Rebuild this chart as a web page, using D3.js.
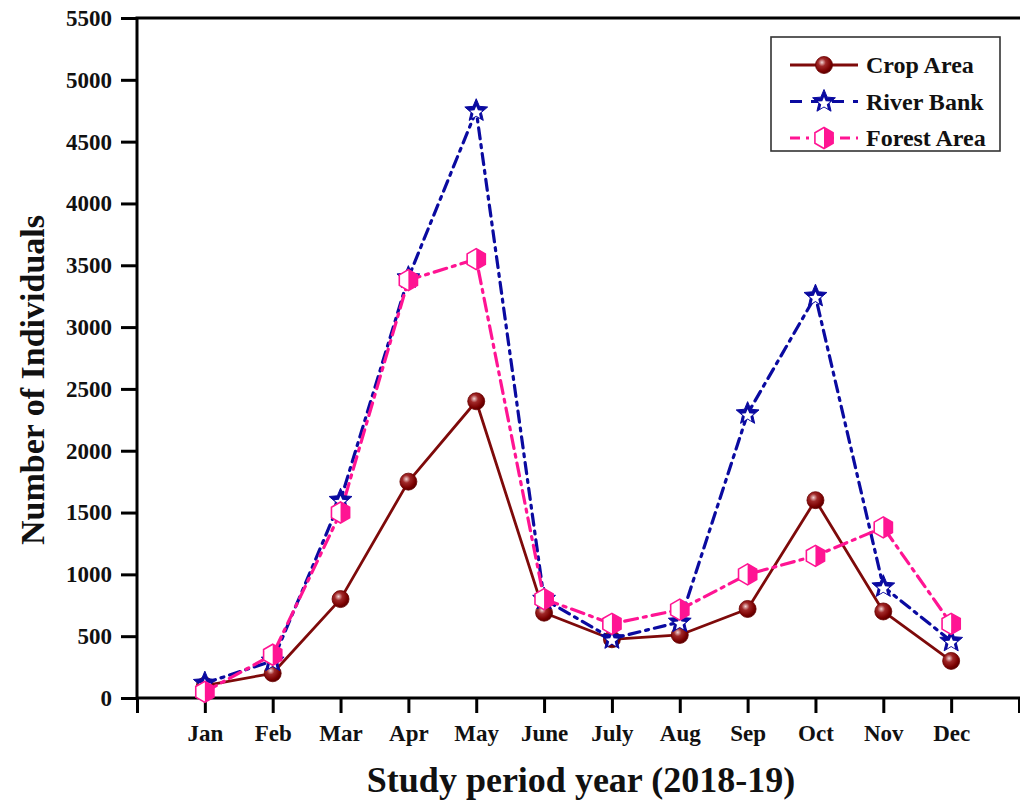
<!DOCTYPE html>
<html>
<head>
<meta charset="utf-8">
<script src="https://cdn.jsdelivr.net/npm/d3@7/dist/d3.min.js"></script>
<style>
  html, body { margin: 0; padding: 0; background: #fff; }
  svg { display: block; }
  text { font-family: "Liberation Serif", "Times New Roman", serif; font-weight: bold; fill: #111; }
</style>
</head>
<body>
<svg id="chart" width="1020" height="805"></svg>
<script>
// Monthly counts of individuals, 2018-19
const months = ["Jan", "Feb", "Mar", "Apr", "May", "June", "July", "Aug", "Sep", "Oct", "Nov", "Dec"];
const cropArea   = [100, 200, 800, 1750, 2400, 690, 475, 510, 720, 1600, 700, 300];
const riverBank  = [120, 300, 1600, 3400, 4750, 800, 480, 615, 2300, 3250, 900, 460];
const forestArea = [50, 350, 1500, 3380, 3550, 800, 600, 715, 1000, 1150, 1380, 600];
const yTicks = [0, 500, 1000, 1500, 2000, 2500, 3000, 3500, 4000, 4500, 5000, 5500];
const seriesNames = ["Crop Area", "River Bank", "Forest Area"];

const svg = d3.select("#chart");
const plotLeft = 137, plotRight = 1019, plotTop = 18, plotBottom = 698;

const x = d3.scaleLinear().domain([0, 13]).range([plotLeft, plotRight]);
const y = d3.scaleLinear().domain([0, 5500]).range([plotBottom, plotTop]);

// gradient for the shaded sphere markers
const defs = svg.append("defs");
const grad = defs.append("radialGradient").attr("id", "ball")
  .attr("cx", "38%").attr("cy", "35%").attr("r", "65%");
grad.append("stop").attr("offset", "0%").attr("stop-color", "#f3d6d6");
grad.append("stop").attr("offset", "35%").attr("stop-color", "#a02828");
grad.append("stop").attr("offset", "80%").attr("stop-color", "#7a0000");
grad.append("stop").attr("offset", "100%").attr("stop-color", "#5a0000");

// axes
const xAxis = d3.axisBottom(x)
  .tickValues(d3.range(0, 14))
  .tickSize(15).tickPadding(12)
  .tickFormat(i => (i >= 1 && i <= 12) ? months[i - 1] : "");
const gx = svg.append("g").attr("transform", `translate(0,${plotBottom})`).call(xAxis);
gx.select(".domain").attr("stroke", "#000").attr("stroke-width", 3).attr("d", `M${plotLeft},0H${plotRight + 2}`);
gx.selectAll(".tick line").attr("stroke", "#000").attr("stroke-width", 3);
gx.selectAll(".tick text").attr("font-size", 23).attr("fill", "#111");

const yAxis = d3.axisLeft(y).tickValues(yTicks).tickSize(16).tickPadding(9).tickFormat(d3.format("d"));
const gy = svg.append("g").attr("transform", `translate(${plotLeft},0)`).call(yAxis);
gy.select(".domain").attr("stroke", "#000").attr("stroke-width", 3).attr("d", `M0,${plotBottom + 1.5}V${plotTop}`);
gy.selectAll(".tick line").attr("stroke", "#000").attr("stroke-width", 3);
gy.selectAll(".tick text").attr("font-size", 23).attr("fill", "#111");

// top frame line
svg.append("line").attr("x1", plotLeft - 1.5).attr("x2", 1020).attr("y1", plotTop).attr("y2", plotTop)
  .attr("stroke", "#000").attr("stroke-width", 3);

// axis titles
svg.append("text").attr("x", 581).attr("y", 792).attr("text-anchor", "middle")
  .attr("font-size", 36).text("Study period year (2018-19)");
svg.append("text").attr("transform", "translate(44,380) rotate(-90)").attr("text-anchor", "middle")
  .attr("font-size", 34).text("Number of Individuals");

// marker drawers
function starPath(r) {
  const pts = [];
  for (let i = 0; i < 10; i++) {
    const a = -Math.PI / 2 + i * Math.PI / 5;
    const rr = i % 2 === 0 ? r : r * 0.45;
    pts.push([rr * Math.cos(a), rr * Math.sin(a)]);
  }
  return "M" + pts.map(p => p.join(",")).join("L") + "Z";
}
function hexPts(r) {
  const pts = [];
  for (let i = 0; i < 6; i++) {
    const a = -Math.PI / 2 + i * Math.PI / 3;
    pts.push([r * Math.cos(a), r * Math.sin(a)]);
  }
  return pts;
}
function drawBall(g) {
  g.append("circle").attr("r", 8.5).attr("fill", "url(#ball)").attr("stroke", "#6a0000").attr("stroke-width", 0.8);
}
function drawStar(g) {
  g.append("path").attr("d", starPath(12)).attr("fill", "#0a0aa0").attr("stroke", "#0a0aa0").attr("stroke-width", 1);
  g.append("path").attr("d", starPath(6.5)).attr("transform", "translate(0,2)").attr("fill", "#fff");
}
function drawHex(g) {
  const p = hexPts(10.5);
  g.append("path").attr("d", "M" + p.map(q => q.join(",")).join("L") + "Z")
    .attr("fill", "#fff").attr("stroke", "#ff1493").attr("stroke-width", 1.6);
  g.append("path").attr("d", `M${p[0]}L${p[1]}L${p[2]}L${p[3]}Z`).attr("fill", "#ff1493");
}

const series = [
  { name: seriesNames[0], values: cropArea, color: "#7e0a0a", dash: null, width: 2.8, marker: drawBall },
  { name: seriesNames[1], values: riverBank, color: "#0a0aa0", dash: "11,6,3,6", width: 3.2, marker: drawStar },
  { name: seriesNames[2], values: forestArea, color: "#ff1493", dash: "13,6,3,6", width: 3.2, marker: drawHex }
];

const line = d3.line().x((d, i) => x(i + 1)).y(d => y(d));

const plot = svg.append("g");
series.forEach(s => {
  plot.append("path").datum(s.values).attr("d", line)
    .attr("fill", "none").attr("stroke", s.color).attr("stroke-width", s.width)
    .attr("stroke-dasharray", s.dash).attr("stroke-linejoin", "round").attr("stroke-linecap", "round");
});
series.forEach(s => {
  s.values.forEach((v, i) => {
    const g = plot.append("g").attr("transform", `translate(${x(i + 1)},${y(v)})`);
    s.marker(g);
  });
});

// legend
const lg = svg.append("g");
lg.append("rect").attr("x", 771).attr("y", 37).attr("width", 229).attr("height", 114)
  .attr("fill", "#fff").attr("stroke", "#333").attr("stroke-width", 1.6);
series.forEach((s, i) => {
  const yy = 65 + i * 36.5;
  lg.append("line").attr("x1", 790).attr("x2", 858).attr("y1", yy).attr("y2", yy)
    .attr("stroke", s.color).attr("stroke-width", s.width)
    .attr("stroke-dasharray", i === 0 ? null : (i === 1 ? "12,9" : "10,6,3,6"));
  const g = lg.append("g").attr("transform", `translate(824,${yy})`);
  s.marker(g);
  lg.append("text").attr("x", 866).attr("y", yy + 8).attr("font-size", 24).text(s.name);
});
</script>
</body>
</html>
